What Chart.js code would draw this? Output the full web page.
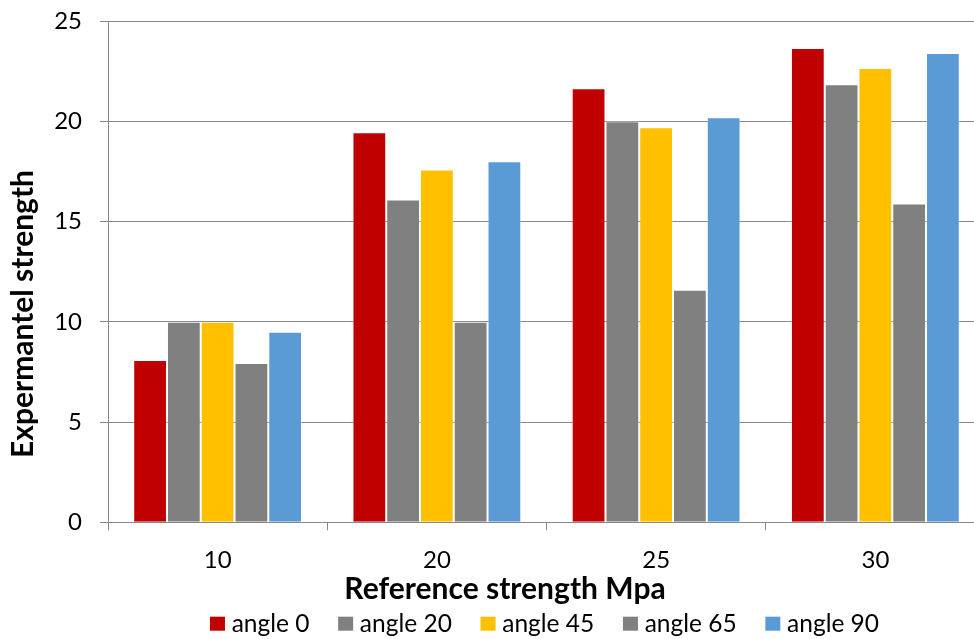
<!DOCTYPE html>
<html>
<head>
<meta charset="utf-8">
<script src="https://cdn.jsdelivr.net/npm/chart.js@4.4.0/dist/chart.umd.min.js"></script>
<style>
  html, body { margin: 0; padding: 0; background: #fff; overflow: hidden; }
  #wrap { position: relative; width: 990px; height: 639px; }
</style>
</head>
<body>
<div id="wrap"><canvas id="c" width="990" height="639"></canvas></div>
<script>
// ---- Data ----
const categories = ["10", "20", "25", "30"];
const seriesNames = ["angle 0", "angle 20", "angle 45", "angle 65", "angle 90"];
const angle0  = [8.1, 19.45, 21.65, 23.65];
const angle20 = [10.0, 16.1, 20.0, 21.85];
const angle45 = [10.0, 17.6, 19.7, 22.65];
const angle65 = [7.95, 10.0, 11.6, 15.9];
const angle90 = [9.5, 18.0, 20.2, 23.4];
const yTicks = [0, 5, 10, 15, 20, 25];
const xTitle = "Reference strength Mpa";
const yTitle = "Expermantel strength";

const colors = ["#C00000", "#808080", "#FFC000", "#808080", "#5B9BD5"];
const seriesValues = [angle0, angle20, angle45, angle65, angle90];

const FONT = "Lato, 'Open Sans', sans-serif";
const GRID = "#888888";

const titlesAndLegend = {
  id: "titlesAndLegend",
  afterDraw(chart) {
    const ctx = chart.ctx;
    ctx.save();
    ctx.fillStyle = "#000";
    // x axis title
    ctx.font = "bold 30px " + FONT;
    ctx.textAlign = "center";
    ctx.textBaseline = "alphabetic";
    ctx.fillText(xTitle, 505, 599);
    // y axis title
    ctx.save();
    ctx.translate(33, 314);
    ctx.rotate(-Math.PI / 2);
    ctx.fillText(yTitle, 0, 0);
    ctx.restore();
    // legend
    ctx.font = "24.5px " + FONT;
    ctx.textAlign = "left";
    const box = 15, boxH = 14, gapBoxText = 6.7, gapItems = 28.7;
    const items = chart.data.datasets.map(d => ({label: d.label, color: d.backgroundColor, w: ctx.measureText(d.label).width}));
    let total = 0;
    items.forEach((it, i) => { total += box + gapBoxText + it.w + (i < items.length - 1 ? gapItems : 0); });
    let x = 544.5 - total / 2;
    items.forEach(it => {
      ctx.fillStyle = it.color;
      ctx.fillRect(x, 616.7, box, boxH);
      ctx.fillStyle = "#000";
      ctx.fillText(it.label, x + box + gapBoxText, 631.5);
      x += box + gapBoxText + it.w + gapItems;
    });
    ctx.restore();
  }
};

new Chart(document.getElementById("c"), {
  type: "bar",
  data: {
    labels: categories,
    datasets: seriesNames.map((name, i) => ({
      label: name,
      data: seriesValues[i],
      backgroundColor: colors[i],
      borderColor: "rgba(255,255,255,0.35)",
      borderWidth: 1,
      categoryPercentage: 0.77,
      barPercentage: 1.0
    }))
  },
  options: {
    responsive: false,
    animation: false,
    layout: { padding: { top: 21, right: 5, left: 0, bottom: 0 } },
    plugins: { legend: { display: false }, tooltip: { enabled: false } },
    scales: {
      x: {
        grid: { display: true, drawOnChartArea: false, drawTicks: true, tickLength: 8, color: GRID, offset: true },
        border: { color: GRID, width: 1 },
        ticks: { font: { family: FONT, size: 24 }, color: "#000", padding: 16 },
        afterFit(scale) { scale.height = 116.7; scale.paddingLeft = 0; scale.paddingRight = 0; }
      },
      y: {
        min: 0, max: 25,
        afterBuildTicks(scale) { scale.ticks = yTicks.map(v => ({ value: v })); },
        grid: { color: GRID, tickLength: 8, lineWidth: 1 },
        border: { color: GRID, width: 1 },
        ticks: { font: { family: FONT, size: 24 }, color: "#000", padding: 18 },
        afterFit(scale) { scale.width = 108; scale.paddingTop = 0; scale.paddingBottom = 0; }
      }
    }
  },
  plugins: [titlesAndLegend]
});
</script>
</body>
</html>
